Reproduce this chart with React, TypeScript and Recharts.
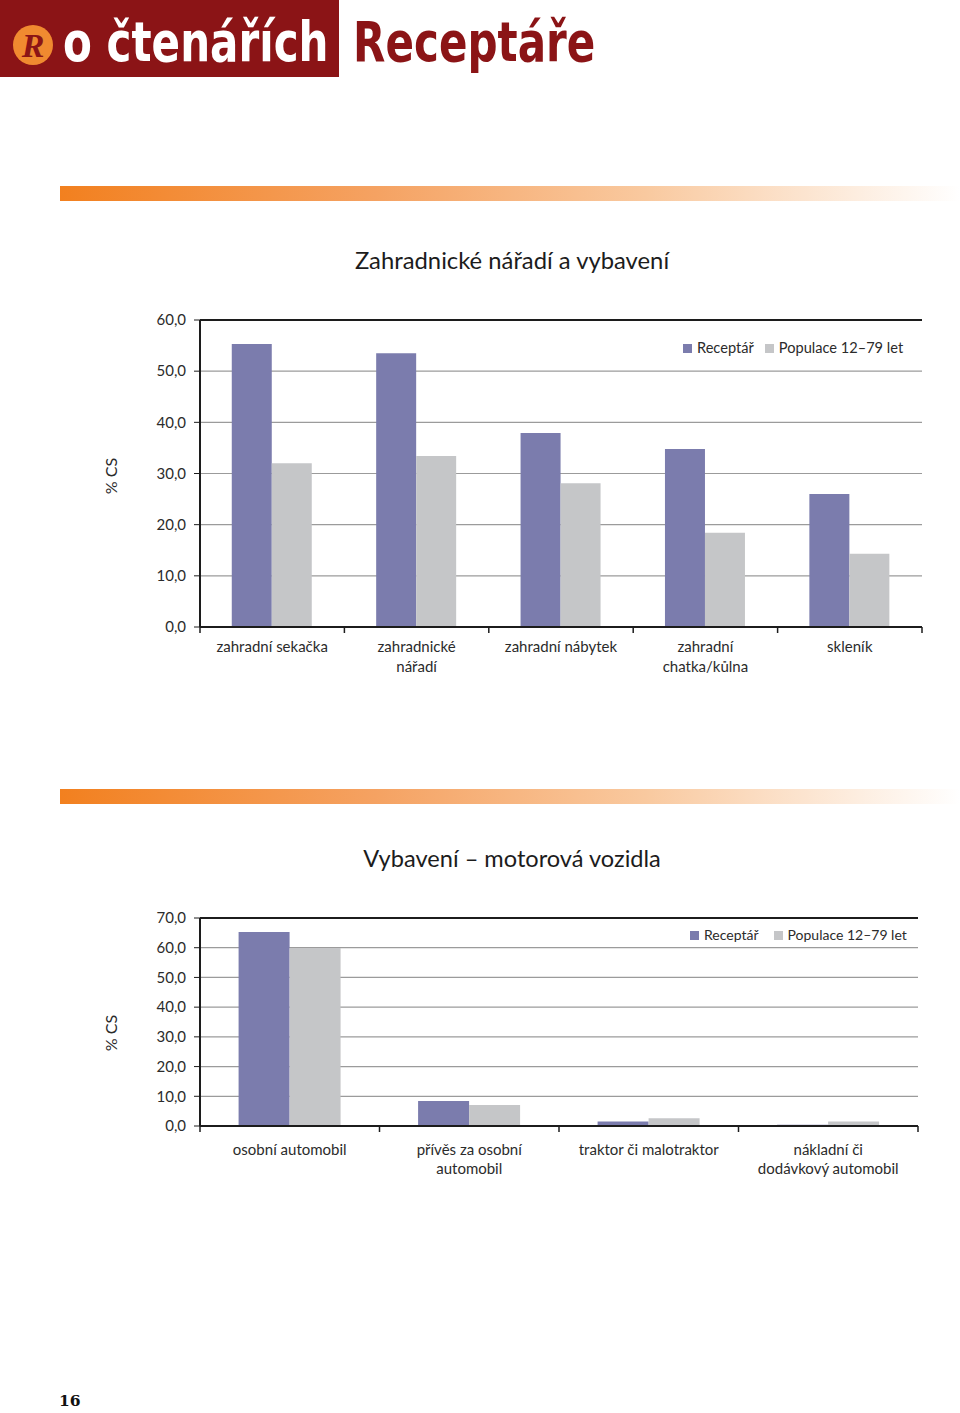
import React from "react";
import { BarChart, Bar, XAxis, YAxis, CartesianGrid, ReferenceLine } from "recharts";

const SERIES = ["Receptář", "Populace 12–79 let"];
const COLORS = ["#7b7cad", "#c5c6c8"];

const gardenCategories = [
  "zahradní sekačka",
  "zahradnické\nnářadí",
  "zahradní nábytek",
  "zahradní\nchatka/kůlna",
  "skleník",
];
const gardenReceptar = [55.3, 53.5, 37.9, 34.8, 26.0];
const gardenPopulace = [32.0, 33.4, 28.1, 18.4, 14.3];
const gardenTicks = [0, 10, 20, 30, 40, 50, 60];

const vehicleCategories = [
  "osobní automobil",
  "přívěs za osobní\nautomobil",
  "traktor či malotraktor",
  "nákladní či\ndodávkový automobil",
];
const vehicleReceptar = [65.3, 8.4, 1.5, 0.4];
const vehiclePopulace = [59.9, 7.1, 2.6, 1.5];
const vehicleTicks = [0, 10, 20, 30, 40, 50, 60, 70];

const FONT = "Lato, 'Open Sans', sans-serif";
const TEXT = "#2b2b2b";
const DARK = "#1c1c1c";
const RED = "#8b1416";

const fmt = (v: number) => v.toFixed(1).replace(".", ",");

function CategoryTick(props: any) {
  const { x, y, payload, index, half, count, firstDy, lineGap } = props;
  const lines = String(payload.value).split("\n");
  return (
    <g>
      <line x1={x - half} x2={x - half} y1={y} y2={y + 6} stroke={DARK} strokeWidth={1.5} />
      {index === count - 1 && (
        <line x1={x + half} x2={x + half} y1={y} y2={y + 6} stroke={DARK} strokeWidth={1.5} />
      )}
      <text x={x} y={y + firstDy} textAnchor="middle" fill={TEXT} fontSize={15} fontFamily={FONT}>
        {lines.map((l, i) => (
          <tspan key={i} x={x} dy={i === 0 ? 0 : lineGap}>
            {l}
          </tspan>
        ))}
      </text>
    </g>
  );
}

function Legend({ left, top, size, gap }: { left: number; top: number; size: number; gap: number }) {
  return (
    <div
      style={{
        position: "absolute",
        left,
        top,
        display: "flex",
        alignItems: "center",
        fontFamily: FONT,
        fontSize: size,
        color: TEXT,
        lineHeight: "20px",
        whiteSpace: "nowrap",
      }}
    >
      {SERIES.map((s, i) => (
        <div key={s} style={{ display: "flex", alignItems: "center", marginRight: i === 0 ? gap : 0 }}>
          <span style={{ width: 9, height: 9, background: COLORS[i], marginRight: 5, display: "inline-block" }} />
          {s}
        </div>
      ))}
    </div>
  );
}

interface PanelProps {
  categories: string[];
  a: number[];
  b: number[];
  ticks: number[];
  top: number;
  plotHeight: number;
  axisHeight: number;
  right: number;
  gap: string;
  firstDy: number;
  lineGap: number;
  labelShift: number;
}

function Panel({ categories, a, b, ticks, top, plotHeight, axisHeight, right, gap, firstDy, lineGap, labelShift }: PanelProps) {
  const data = categories.map((name, i) => ({ name, a: a[i], b: b[i] }));
  const width = 960;
  const plotLeft = 200;
  const half = (width - plotLeft - right) / categories.length / 2;
  const max = ticks[ticks.length - 1];
  const height = 20 + plotHeight + axisHeight;
  return (
    <div style={{ position: "absolute", left: 0, top: top - 20, width, height }}>
      <BarChart
        width={width}
        height={height}
        data={data}
        margin={{ top: 20, right, left: 0, bottom: 0 }}
        barCategoryGap={gap}
        barGap={0}
      >
        <CartesianGrid vertical={false} stroke="#9b9b9b" strokeWidth={1.2} />
        <XAxis
          dataKey="name"
          interval={0}
          height={axisHeight}
          tickSize={0}
          tickMargin={0}
          tickLine={false}
          axisLine={{ stroke: DARK, strokeWidth: 2 }}
          tick={(p: any) => (
            <CategoryTick {...p} half={half} count={categories.length} firstDy={firstDy} lineGap={lineGap} />
          )}
        />
        <YAxis
          width={plotLeft}
          domain={[0, max]}
          ticks={ticks}
          tickFormatter={fmt}
          tickSize={6}
          tickMargin={8}
          tickLine={{ stroke: DARK }}
          axisLine={{ stroke: DARK, strokeWidth: 2 }}
          tick={{ fill: TEXT, fontSize: 15, fontFamily: FONT }}
          label={{
            content: (p: any) => {
              const vb = p.viewBox || { y: top, height: plotHeight };
              const cx = 110;
              const cy = vb.y + vb.height / 2 + labelShift;
              return (
                <text
                  x={cx}
                  y={cy}
                  transform={`rotate(-90 ${cx} ${cy})`}
                  textAnchor="middle"
                  dominantBaseline="central"
                  fill={TEXT}
                  fontSize={16}
                  fontFamily={FONT}
                >
                  % CS
                </text>
              );
            },
          }}
        />
        <YAxis
          yAxisId="frame"
          orientation="right"
          width={0}
          domain={[0, max]}
          tick={false}
          tickLine={false}
          axisLine={{ stroke: DARK, strokeWidth: 2 }}
        />
        <ReferenceLine y={max} stroke={DARK} strokeWidth={2} />
        <Bar dataKey="a" name={SERIES[0]} fill={COLORS[0]} isAnimationActive={false} />
        <Bar dataKey="b" name={SERIES[1]} fill={COLORS[1]} isAnimationActive={false} />
      </BarChart>
    </div>
  );
}

const stripe: React.CSSProperties = {
  position: "absolute",
  left: 60,
  width: 900,
  height: 15,
  background: "linear-gradient(to right, #f2801f 0%, #f5a262 35%, #f9c99f 65%, #ffffff 100%)",
};

const title: React.CSSProperties = {
  position: "absolute",
  left: 262,
  width: 500,
  textAlign: "center",
  fontFamily: FONT,
  color: DARK,
  lineHeight: "30px",
};

const header: React.CSSProperties = {
  position: "absolute",
  top: 10,
  fontFamily: "'DejaVu Sans', sans-serif",
  fontWeight: 700,
  fontSize: 55,
  lineHeight: "64px",
  whiteSpace: "nowrap",
  transformOrigin: "left top",
  transform: "scaleX(0.765)",
};

export default function App() {
  return (
    <div style={{ position: "absolute", left: 0, top: 0, width: 960, height: 1413, background: "#fff", overflow: "hidden" }}>
      <div style={{ position: "absolute", left: 0, top: 0, width: 339, height: 77, background: RED }} />
      <div
        style={{
          position: "absolute",
          left: 13,
          top: 25,
          width: 40,
          height: 40,
          borderRadius: 20,
          background: "#f08a30",
          color: RED,
          fontFamily: "'Liberation Serif', serif",
          fontStyle: "italic",
          fontWeight: 700,
          fontSize: 34,
          lineHeight: "42px",
          textAlign: "center",
        }}
      >
        R
      </div>
      <div style={{ ...header, left: 63, color: "#fff" }}>o čtenářích</div>
      <div style={{ ...header, left: 353, color: RED }}>Receptáře</div>

      <div style={{ ...stripe, top: 186 }} />
      <div style={{ ...title, top: 245, fontSize: 23.8 }}>Zahradnické nářadí a vybavení</div>
      <Panel
        categories={gardenCategories}
        a={gardenReceptar}
        b={gardenPopulace}
        ticks={gardenTicks}
        top={320}
        plotHeight={307}
        axisHeight={70}
        right={38}
        gap="22%"
        firstDy={25}
        lineGap={20}
        labelShift={2.5}
      />
      <Legend left={683} top={338} size={14.6} gap={11} />

      <div style={{ ...stripe, top: 789 }} />
      <div style={{ ...title, top: 843, fontSize: 23.6 }}>Vybavení – motorová vozidla</div>
      <Panel
        categories={vehicleCategories}
        a={vehicleReceptar}
        b={vehiclePopulace}
        ticks={vehicleTicks}
        top={918}
        plotHeight={208}
        axisHeight={80}
        right={42}
        gap="21.5%"
        firstDy={29}
        lineGap={19}
        labelShift={11}
      />
      <Legend left={690} top={925} size={14} gap={15} />

      <div
        style={{
          position: "absolute",
          left: 59,
          top: 1391,
          fontFamily: "'DejaVu Serif', serif",
          fontWeight: 700,
          fontSize: 15.5,
          color: "#111",
        }}
      >
        16
      </div>
    </div>
  );
}
